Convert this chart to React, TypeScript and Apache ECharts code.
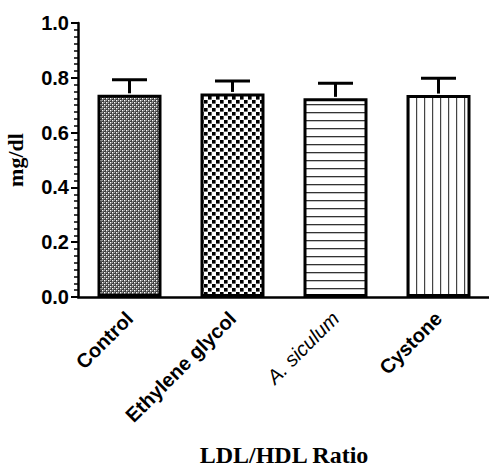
import React, { useEffect, useRef } from "react";
import * as echarts from "echarts";

const categories = ["Control", "Ethylene glycol", "A. siculum", "Cystone"];
const means = [0.738, 0.743, 0.725, 0.737];
const sems = [0.055, 0.045, 0.055, 0.061];
const yTicks = [0, 0.2, 0.4, 0.6, 0.8, 1.0];
const yTitle = "mg/dl";
const xTitle = "LDL/HDL Ratio";

function tile(kind: string) {
  const c = document.createElement("canvas");
  let w = 8, h = 8;
  if (kind === "fine") { w = 4; h = 4; }
  c.width = w; c.height = h;
  const g = c.getContext("2d")!;
  if (kind === "fine") {
    g.fillStyle = "#3c3c3c"; g.fillRect(0, 0, 4, 4);
    g.fillStyle = "#ffffff"; g.fillRect(0, 0, 1.4, 1.4); g.fillRect(2, 2, 1.4, 1.4);
    g.fillStyle = "#a0a0a0"; g.fillRect(2, 0, 1, 1); g.fillRect(0, 2, 1, 1);
  } else if (kind === "coarse") {
    g.fillStyle = "#ffffff"; g.fillRect(0, 0, 8, 8);
    g.fillStyle = "#000000"; g.fillRect(0, 0, 3.6, 3.6); g.fillRect(4, 4, 3.6, 3.6);
  } else if (kind === "hline") {
    g.fillStyle = "#ffffff"; g.fillRect(0, 0, 8, 8);
    g.fillStyle = "#333333"; g.fillRect(0, 0, 8, 1.3);
  } else {
    g.fillStyle = "#ffffff"; g.fillRect(0, 0, 8, 8);
    g.fillStyle = "#444444"; g.fillRect(0, 0, 1.2, 8);
  }
  return { image: c, repeat: "repeat", imageWidth: w, imageHeight: h } as any;
}

export default function App() {
  const ref = useRef<HTMLDivElement>(null);
  useEffect(() => {
    const chart = echarts.init(ref.current!, null, { renderer: "svg" });
    const patterns = [tile("fine"), tile("coarse"), tile("hline"), tile("vline")];
    chart.setOption({
      animation: false,
      backgroundColor: "#ffffff",
      grid: { left: 78, top: 23, width: 412, bottom: 172, outerBoundsMode: "none", containLabel: false },
      xAxis: {
        type: "category",
        data: categories,
        name: xTitle,
        nameLocation: "middle",
        nameGap: 146,
        nameTextStyle: { fontFamily: "Liberation Serif", fontWeight: "bold", fontSize: 24, color: "#000" },
        axisLine: { lineStyle: { color: "#000", width: 2.5 } },
        axisTick: { alignWithLabel: true, length: 6, lineStyle: { color: "#000", width: 2 } },
        axisLabel: {
          rotate: 45,
          margin: 18,
          color: "#000",
          fontFamily: "Liberation Sans",
          fontWeight: "bold",
          fontSize: 20,
          interval: 0,
          formatter: (v: string) => (v === "A. siculum" ? "{i|" + v + "}" : v),
          rich: {
            i: { fontStyle: "italic", fontWeight: "normal", fontFamily: "Liberation Sans", fontSize: 20, color: "#000" },
          },
        },
      },
      yAxis: {
        type: "value",
        min: 0,
        max: 1,
        interval: 0.2,
        name: yTitle,
        nameLocation: "middle",
        nameGap: 52,
        nameTextStyle: { fontFamily: "Liberation Serif", fontWeight: "bold", fontSize: 22, color: "#000" },
        axisLine: { show: true, lineStyle: { color: "#000", width: 2.5 } },
        axisTick: { show: true, length: 7, lineStyle: { color: "#000", width: 2 } },
        minorTick: { show: true, splitNumber: 8, length: 4, lineStyle: { color: "#000", width: 1.5 } },
        splitLine: { show: false },
        axisLabel: {
          margin: 9,
          color: "#000",
          fontFamily: "Liberation Sans",
          fontWeight: "bold",
          fontSize: 20,
          formatter: (v: number) => (yTicks.includes(Math.round(v * 10) / 10) ? v.toFixed(1) : ""),
        },
      },
      series: [
        {
          type: "bar",
          barWidth: 64,
          data: means.map((m, i) => ({
            value: m,
            itemStyle: { color: patterns[i], borderColor: "#000", borderWidth: 3 },
          })),
        },
        {
          type: "custom",
          z: 5,
          data: means.map((m, i) => [i, m, m + sems[i]]),
          renderItem: (params: any, api: any) => {
            const x = api.coord([api.value(0), api.value(1)]);
            const t = api.coord([api.value(0), api.value(2)]);
            const style = { stroke: "#000", lineWidth: 3, fill: "none" };
            return {
              type: "group",
              children: [
                { type: "line", shape: { x1: x[0], y1: x[1] - 1.5, x2: t[0], y2: t[1] }, style },
                { type: "line", shape: { x1: t[0] - 17.5, y1: t[1], x2: t[0] + 17.5, y2: t[1] }, style },
              ],
            };
          },
        },
      ],
    });
    return () => chart.dispose();
  }, []);
  return <div ref={ref} style={{ width: 489, height: 469, position: "absolute", left: 0, top: 0 }} />;
}
